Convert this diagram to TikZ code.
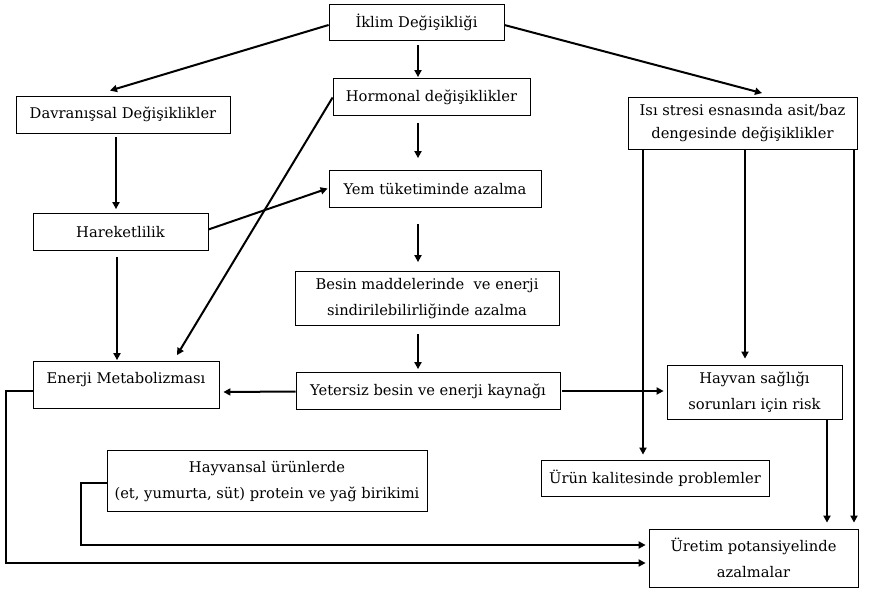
\documentclass[tikz,border=0pt]{standalone}
\usepackage{fontspec}
\setmainfont{DejaVu Serif}
\usetikzlibrary{arrows.meta}
\tikzset{
  box/.style={draw, line width=0.8pt, inner sep=0pt, align=center, font=\fontsize{14.7}{26}\selectfont},
  arr/.style={line width=2pt, -{Triangle[length=7pt,width=7pt]}},
  ln/.style={line width=2pt}
}
\begin{document}
\begin{tikzpicture}[x=1pt,y=-1pt]
\useasboundingbox (0,0) rectangle (872,591);
\node[box, minimum width=175, minimum height=36] (iklim) at (416.5,22) {İklim Değişikliği};
\node[box, minimum width=214, minimum height=37] (davr) at (123,114.5) {Davranışsal Değişiklikler};
\node[box, minimum width=197, minimum height=37] (horm) at (431.5,97) {Hormonal değişiklikler};
\node[box, minimum width=212, minimum height=37] (yem) at (435,189) {Yem tüketiminde azalma};
\node[box, minimum width=229, minimum height=52, font=\fontsize{14.7}{23}\selectfont] (isi) at (742.5,123.5) {Isı stresi esnasında asit/baz\\dengesinde değişiklikler};
\node[box, minimum width=175, minimum height=37] (hare) at (120.5,232) {Hareketlilik};
\node[box, minimum width=264, minimum height=54] (besin) at (427,298.5) {Besin maddelerinde~ ve enerji\\sindirilebilirliğinde azalma};
\node[draw, line width=0.8pt, inner sep=0pt, font=\fontsize{14.7}{26}\selectfont, minimum width=186, text height=22pt, text depth=25pt] (enerji) at (126,385) {Enerji Metabolizması};
\node[box, minimum width=264, minimum height=37] (yeter) at (428,391) {Yetersiz besin ve enerji kaynağı};
\node[box, minimum width=175, minimum height=54] (hsag) at (754.5,392) {Hayvan sağlığı\\sorunları için risk};
\node[box, minimum width=320, minimum height=61] (hsal) at (267,481) {Hayvansal ürünlerde\\(et, yumurta, süt) protein ve yağ birikimi};
\node[box, minimum width=228, minimum height=36] (urun) at (655,478) {Ürün kalitesinde problemler};
\node[box, minimum width=209, minimum height=58] (uret) at (753.5,558) {Üretim potansiyelinde\\azalmalar};
\coordinate (c1) at (6,563);
\coordinate (c2) at (81,545);

\draw[arr] ([shift={(0,3)}]iklim.west) -- ([shift={(-13,-5)}]davr.north);
\draw[arr] ([shift={(1.5,5)}]iklim.south) -- ([shift={(-13.5,-1)}]horm.north);
\draw[arr] ([shift={(0,3)}]iklim.east) -- ([shift={(19.5,-4)}]isi.north);
\draw[arr] ([shift={(-13.5,7)}]horm.south) -- ([shift={(-17,-12)}]yem.north);
\draw[arr] ([shift={(-7,4)}]davr.south) -- ([shift={(-4.5,-4)}]hare.north);
\draw[arr] ([shift={(0,0.5)}]horm.west) -- ([shift={(51,-6)}]enerji.north);
\draw[arr] ([shift={(0,-2.5)}]hare.east) -- ([shift={(-1,-0.5)}]yem.west);
\draw[arr] ([shift={(-17,16)}]yem.south) -- ([shift={(-9,-9)}]besin.north);
\draw[arr] ([shift={(-3.5,6)}]hare.south) -- ([shift={(-9,-1)}]enerji.north);
\draw[arr] ([shift={(-9,8)}]besin.south) -- ([shift={(-10,-3)}]yeter.north);
\draw[arr] ([shift={(0,0.5)}]yeter.west) -- ([shift={(4,7)}]enerji.east);
\draw[arr] ([shift={(2,0)}]yeter.east) -- ([shift={(-3,-1)}]hsag.west);
\draw[arr] ([shift={(-99.5,0)}]isi.south) -- ([shift={(-12,-5)}]urun.north);
\draw[arr] ([shift={(2.5,0)}]isi.south) -- ([shift={(-9.5,-6)}]hsag.north);
\draw[arr] ([shift={(111.5,0)}]isi.south) -- ([shift={(100.5,-6)}]uret.north);
\draw[arr] ([shift={(72.5,0)}]hsag.south) -- ([shift={(73.5,-6)}]uret.north);
\draw[arr] ([shift={(0,6)}]enerji.west) -| (c1) -- ([shift={(-3,5)}]uret.west);
\draw[arr] ([shift={(0,2)}]hsal.west) -| (c2) -- ([shift={(-3,-13)}]uret.west);
\end{tikzpicture}
\end{document}
